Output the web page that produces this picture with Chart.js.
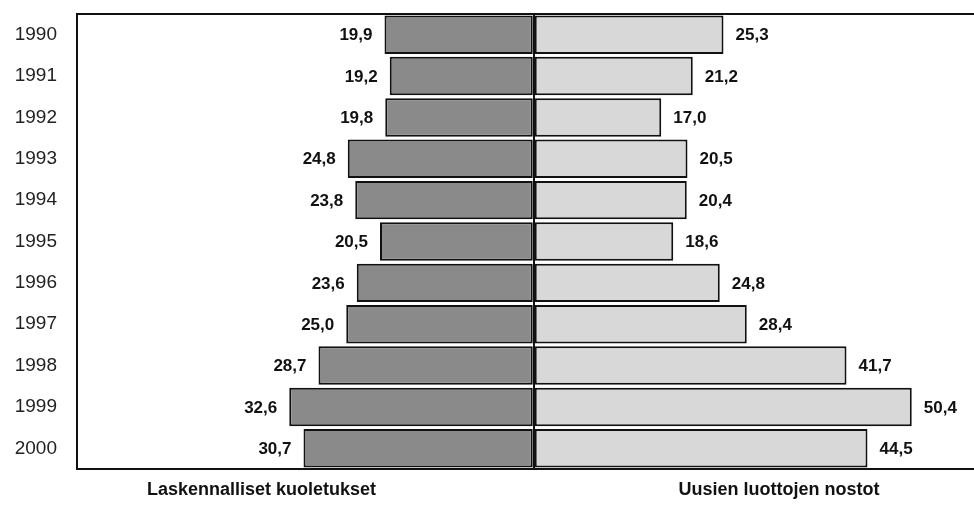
<!DOCTYPE html>
<html>
<head>
<meta charset="utf-8">
<script src="https://cdn.jsdelivr.net/npm/chart.js@4"></script>
<style>
  html, body { margin: 0; padding: 0; background: #fff; }
  #wrap { width: 974px; height: 526px; }
</style>
</head>
<body>
<div id="wrap"><canvas id="chart"></canvas></div>
<script>
const years = ["1990", "1991", "1992", "1993", "1994", "1995", "1996", "1997", "1998", "1999", "2000"];
const kuoletukset = [19.9, 19.2, 19.8, 24.8, 23.8, 20.5, 23.6, 25.0, 28.7, 32.6, 30.7];
const nostot = [25.3, 21.2, 17.0, 20.5, 20.4, 18.6, 24.8, 28.4, 41.7, 50.4, 44.5];
const sideLabels = ["Laskennalliset kuoletukset", "Uusien luottojen nostot"];
const sideLabelPos = [-36.3, 32.7];

const fmt = v => Math.abs(v).toFixed(1).replace(".", ",");

// value labels + top frame line
const labelPlugin = {
  id: "valueLabels",
  afterDatasetsDraw(chart) {
    const ctx = chart.ctx;
    const area = chart.chartArea;
    ctx.save();
    ctx.strokeStyle = "#111";
    ctx.lineWidth = 2;
    ctx.beginPath();
    ctx.moveTo(area.left, area.top);
    ctx.lineTo(area.right, area.top);
    ctx.stroke();

    ctx.font = "bold 17px 'Liberation Sans', Arial, sans-serif";
    ctx.fillStyle = "#111";
    ctx.textBaseline = "middle";
    chart.data.datasets.forEach((ds, di) => {
      chart.getDatasetMeta(di).data.forEach((bar, i) => {
        const v = ds.data[i];
        if (v < 0) {
          ctx.textAlign = "right";
          ctx.fillText(fmt(v), bar.x - 12, bar.y + 1);
        } else {
          ctx.textAlign = "left";
          ctx.fillText(fmt(v), bar.x + 12, bar.y + 1);
        }
      });
    });
    ctx.restore();
  }
};

new Chart(document.getElementById("chart"), {
  type: "bar",
  data: {
    labels: years,
    datasets: [
      {
        label: sideLabels[0],
        data: kuoletukset.map(v => -v),
        backgroundColor: "#8a8a8a",
        borderColor: "#111",
        borderWidth: 2,
        borderSkipped: false,
        barPercentage: 0.93,
        categoryPercentage: 1
      },
      {
        label: sideLabels[1],
        data: nostot,
        backgroundColor: "#d8d8d8",
        borderColor: "#111",
        borderWidth: 2,
        borderSkipped: false,
        barPercentage: 0.93,
        categoryPercentage: 1
      }
    ]
  },
  options: {
    indexAxis: "y",
    responsive: true,
    maintainAspectRatio: false,
    animation: false,
    layout: { padding: { top: 14, left: 0, right: 0, bottom: 0 } },
    scales: {
      x: {
        stacked: true,
        min: -60.9,
        max: 58.7,
        afterBuildTicks: scale => {
          scale.ticks = [{ value: sideLabelPos[0] }, { value: 0 }, { value: sideLabelPos[1] }];
        },
        afterFit: scale => {
          scale.height = 57;
          scale.paddingLeft = 0;
          scale.paddingRight = 0;
        },
        grid: {
          drawTicks: false,
          color: c => (c.tick && c.tick.value === 0 ? "#111" : "rgba(0,0,0,0)"),
          lineWidth: 2
        },
        border: { display: true, color: "#111", width: 2 },
        ticks: {
          autoSkip: false,
          maxRotation: 0,
          padding: 10,
          color: "#111",
          font: { family: "'Liberation Sans', Arial, sans-serif", size: 18, weight: "bold" },
          callback: value => {
            const i = sideLabelPos.indexOf(value);
            return i >= 0 ? sideLabels[i] : "";
          }
        }
      },
      y: {
        stacked: true,
        afterFit: scale => {
          scale.width = 77;
          scale.paddingTop = 0;
          scale.paddingBottom = 0;
        },
        grid: { display: false, drawTicks: false },
        border: { display: true, color: "#111", width: 2 },
        ticks: {
          padding: 20,
          color: "#222",
          font: { family: "'Liberation Sans', Arial, sans-serif", size: 19 }
        }
      }
    },
    plugins: {
      legend: { display: false },
      tooltip: { enabled: false }
    }
  },
  plugins: [labelPlugin]
});
</script>
</body>
</html>
